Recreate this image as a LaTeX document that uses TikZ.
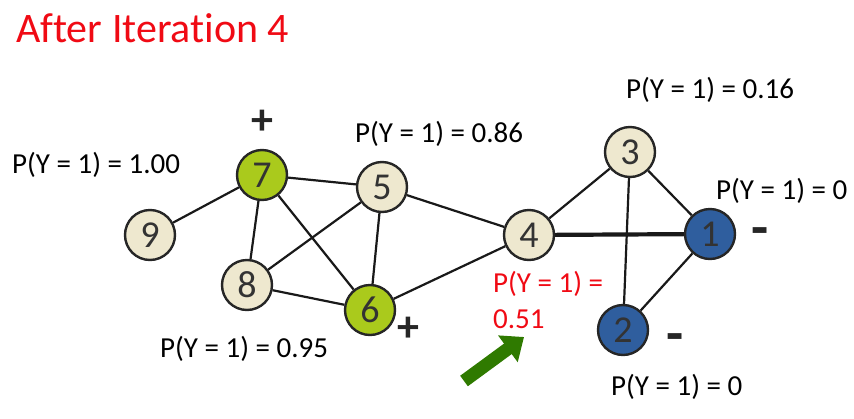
\documentclass[tikz,border=0pt]{standalone}
\usepackage{fontspec}
\setmainfont{Carlito}[Ligatures=NoCommon]
\usetikzlibrary{arrows.meta}
\definecolor{beige}{HTML}{EEE8CF}
\definecolor{lgreen}{HTML}{AACA1C}
\definecolor{dblue}{HTML}{2F5E9E}
\definecolor{agreen}{HTML}{2F7A00}
\definecolor{tred}{HTML}{F00A14}
\begin{document}
\begin{tikzpicture}[x=1pt,y=-1pt,
  vtx/.style={circle,draw=black!85,line width=2.4pt,minimum size=50pt,inner sep=0pt,font=\fontsize{38}{38}\selectfont,text=black!80},
  unlnode/.style={vtx,fill=beige},
  posnode/.style={vtx,fill=lgreen},
  negnode/.style={vtx,fill=dblue},
  edgeline/.style={line width=2.2pt,black!90},
  lbl/.style={inner sep=0pt,font=\fontsize{29}{30}\selectfont,anchor=west},
  sgn/.style={inner sep=0pt,font=\fontsize{44}{44}\selectfont\bfseries,text=black!85},
  msgn/.style={inner sep=0pt,font=\fontsize{56}{56}\selectfont\bfseries,text=black!85}]
\useasboundingbox (0,0) rectangle (854,418);
\node[lbl,text=tred,font=\fontsize{42}{42}\selectfont] (title) at (16,28) {After Iteration 4};
\node[posnode] (n7) at (262,175) {7};
\node[unlnode] (n5) at (382,187) {5};
\node[unlnode] (n9) at (150,235) {9};
\node[unlnode] (n8) at (247,285) {8};
\node[posnode] (n6) at (370,310) {6};
\node[unlnode] (n4) at (529,235) {4};
\node[unlnode] (n3) at (630,152) {3};
\node[negnode] (n1) at (710,234) {1};
\node[negnode] (n2) at (623,330) {2};
\draw[edgeline] (n9) -- (n7);
\draw[edgeline] (n7) -- (n5);
\draw[edgeline] (n7) -- (n8);
\draw[edgeline] (n7) -- (n6);
\draw[edgeline] (n5) -- (n8);
\draw[edgeline] (n5) -- (n6);
\draw[edgeline] (n5) -- (n4);
\draw[edgeline] (n8) -- (n6);
\draw[edgeline] (n6) -- (n4);
\draw[edgeline] (n4) -- (n3);
\draw[edgeline,line width=4.2pt] (n4) -- (n1);
\draw[edgeline] (n3) -- (n1);
\draw[edgeline] (n3) -- (n2);
\draw[edgeline] (n1) -- (n2);
\node[lbl] (l7) at (12,165) {P(Y = 1) = 1.00};
\node[lbl] (l5) at (355,134) {P(Y = 1) = 0.86};
\node[lbl] (l3) at (626,90) {P(Y = 1) = 0.16};
\node[lbl] (l1) at (716,191) {P(Y = 1) = 0};
\node[lbl] (l8) at (160,349) {P(Y = 1) = 0.95};
\node[lbl] (l2) at (611,387) {P(Y = 1) = 0};
\node[lbl,text=tred] (l4a) at (493,284) {P(Y = 1) =};
\node[lbl,text=tred] (l4b) at (493,319) {0.51};
\node[sgn] (p7) at (262,122) {+};
\node[sgn] (p6) at (408,329) {+};
\node[msgn] (m1) at (760,237) {-};
\node[msgn] (m2) at (675,343) {-};
\coordinate (as) at (464,381);
\coordinate (ae) at (524,337);
\draw[agreen,line width=13pt,-{Triangle[length=20pt,width=32pt]}] (as) -- (ae);
\end{tikzpicture}
\end{document}
